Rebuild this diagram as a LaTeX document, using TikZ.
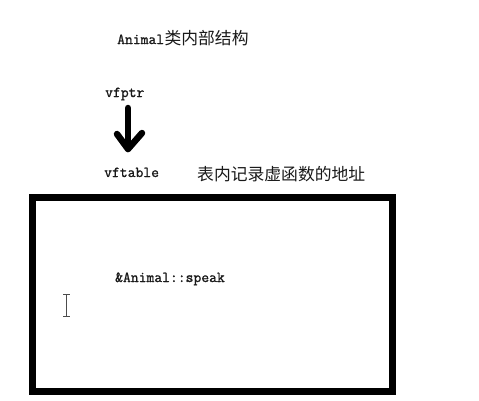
\documentclass[tikz,border=0pt]{standalone}
\usepackage{fontspec}
\newfontfamily\codefont{Latin Modern Mono}[FakeBold=1.2]
\newfontfamily\cjk{Noto Sans CJK SC}
\begin{document}
\begin{tikzpicture}[x=1pt,y=-1pt,
  lbl/.style={anchor=base west,inner sep=0pt,font=\fontsize{15.2}{16}\selectfont\codefont,text=black!90},
  cjklbl/.style={anchor=base west,inner sep=0pt,font=\fontsize{16.8}{18}\selectfont\cjk,text=black!90},
  ptrarrow/.style={line width=6.5pt,line cap=round,line join=round},
  tablebox/.style={draw,line width=7pt,line join=miter,outer sep=0pt,inner sep=0pt}]
\useasboundingbox (0,0) rectangle (479,400);
\fill[white] (0,0) rectangle (479,400);
\node[lbl] (title) at (117,44) {Animal};
\node[cjklbl] (titlecjk) at (title.base east) {类内部结构};
\node[lbl] (vfptr) at (105,97) {vfptr};
\node[lbl] (vftable) at (104,177) {vftable};
\node[cjklbl] (note) at (197,180) {表内记录虚函数的地址};
\coordinate (atop) at (128,108);
\coordinate (atip) at (128,149);
\coordinate (wl) at (117,134);
\coordinate (wr) at (142,133);
\draw[ptrarrow] (atop) -- (atip);
\draw[ptrarrow] (wl) -- (atip) -- (wr);
\node[tablebox,minimum width=359.5pt,minimum height=193.5pt,anchor=north west] (table) at (32.5,197.5) {};
\node[lbl] (entry) at (115,282) {\&Animal::speak};
\draw[black!70,line width=0.9pt] (63,294) -- (70,294) (66.5,294) -- (66.5,316) (63,316) -- (70,316);
\end{tikzpicture}
\end{document}
